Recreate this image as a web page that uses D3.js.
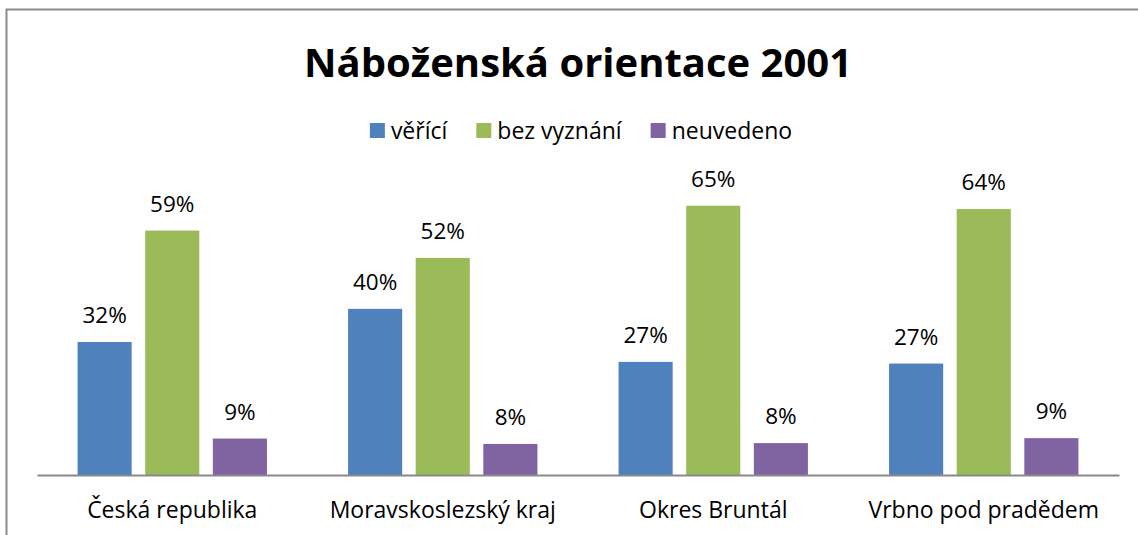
<!DOCTYPE html>
<html>
<head>
<meta charset="utf-8">
<script src="https://cdn.jsdelivr.net/npm/d3@7"></script>
<style>
  body { margin: 0; background: #fff; }
  svg text { font-family: "Open Sans", "Noto Sans", sans-serif; fill: #000; }
  .axis path { stroke: #898989; stroke-width: 2; }
</style>
</head>
<body>
<svg class="chart"></svg>
<script>
const width = 1138;
const height = 535;
const margin = { top: 185, left: 37, bottom: 60, right: 19 };

// data (percent)
const categories = ["Česká republika", "Moravskoslezský kraj", "Okres Bruntál", "Vrbno pod pradědem"];
const seriesNames = ["věřící", "bez vyznání", "neuvedeno"];
const colors = ["#4F81BD", "#9BBB59", "#8064A2"];
const veritici = [32.1, 40.1, 27.3, 26.9];
const bezVyznani = [59.0, 52.4, 65.0, 64.2];
const neuvedeno = [8.8, 7.5, 7.7, 8.9];
const yMax = 70;

const seriesValues = [veritici, bezVyznani, neuvedeno];
const data = categories.map((c, i) => ({
    category: c,
    values: seriesNames.map((s, j) => ({ key: s, value: seriesValues[j][i], color: colors[j] }))
}));

let svg = d3.select("svg.chart")
    .attr("width", width)
    .attr("height", height);

// outer frame (right and bottom run off the picture)
svg.append("rect")
    .attr("x", 6.5)
    .attr("y", 9.5)
    .attr("width", width + 20)
    .attr("height", height + 20)
    .attr("fill", "none")
    .attr("stroke", "#8c8c8c")
    .attr("stroke-width", 2);

const innerW = width - margin.left - margin.right;
const innerH = height - margin.top - margin.bottom;

let x0 = d3.scaleBand()
    .domain(categories)
    .range([0, innerW]);

let x1 = d3.scaleBand()
    .domain(seriesNames)
    .range([0, x0.bandwidth()])
    .paddingInner(0.2)
    .paddingOuter(0.6);

let y = d3.scaleLinear()
    .domain([0, yMax])
    .range([innerH, 0]);

let g = svg.append("g")
    .attr("transform", `translate(${margin.left}, ${margin.top})`);

let groups = g.selectAll(".group")
    .data(data)
    .enter().append("g")
    .attr("class", "group")
    .attr("transform", d => `translate(${x0(d.category)}, 0)`);

groups.selectAll("rect")
    .data(d => d.values)
    .enter().append("rect")
    .attr("x", d => x1(d.key))
    .attr("width", x1.bandwidth())
    .attr("y", d => y(d.value))
    .attr("height", d => innerH - y(d.value))
    .attr("fill", d => d.color);

groups.selectAll(".label")
    .data(d => d.values)
    .enter().append("text")
    .attr("class", "label")
    .attr("x", d => x1(d.key) + x1.bandwidth() / 2)
    .attr("y", d => y(d.value) - 19)
    .attr("text-anchor", "middle")
    .style("font-size", "22.5px")
    .text(d => Math.round(d.value) + "%");

let xAxis = g.append("g")
    .attr("class", "axis")
    .attr("transform", `translate(0, ${innerH})`)
    .call(d3.axisBottom(x0).tickSize(0).tickSizeOuter(0));

xAxis.selectAll(".tick text")
    .attr("y", 43)
    .attr("dy", 0)
    .style("font-size", "23px")
    .style("font-family", "'Open Sans', sans-serif")
    .attr("fill", "#000");

// title
svg.append("text")
    .attr("x", margin.left + innerW / 2)
    .attr("y", 77)
    .attr("text-anchor", "middle")
    .style("font-size", "40px")
    .style("font-weight", "bold")
    .text("Náboženská orientace 2001");

// legend
let legend = svg.append("g");
let lx = 0;
seriesNames.forEach((s, i) => {
    let item = legend.append("g").attr("transform", `translate(${lx}, 0)`);
    item.append("rect")
        .attr("x", 0)
        .attr("y", 123)
        .attr("width", 15)
        .attr("height", 15)
        .attr("fill", colors[i]);
    let t = item.append("text")
        .attr("x", 21)
        .attr("y", 139)
        .style("font-size", "23px")
        .text(s);
    lx += 21 + t.node().getComputedTextLength() + 29;
});
lx -= 29;
legend.attr("transform", `translate(${margin.left + innerW / 2 + 3 - lx / 2}, 0)`);
</script>
</body>
</html>
